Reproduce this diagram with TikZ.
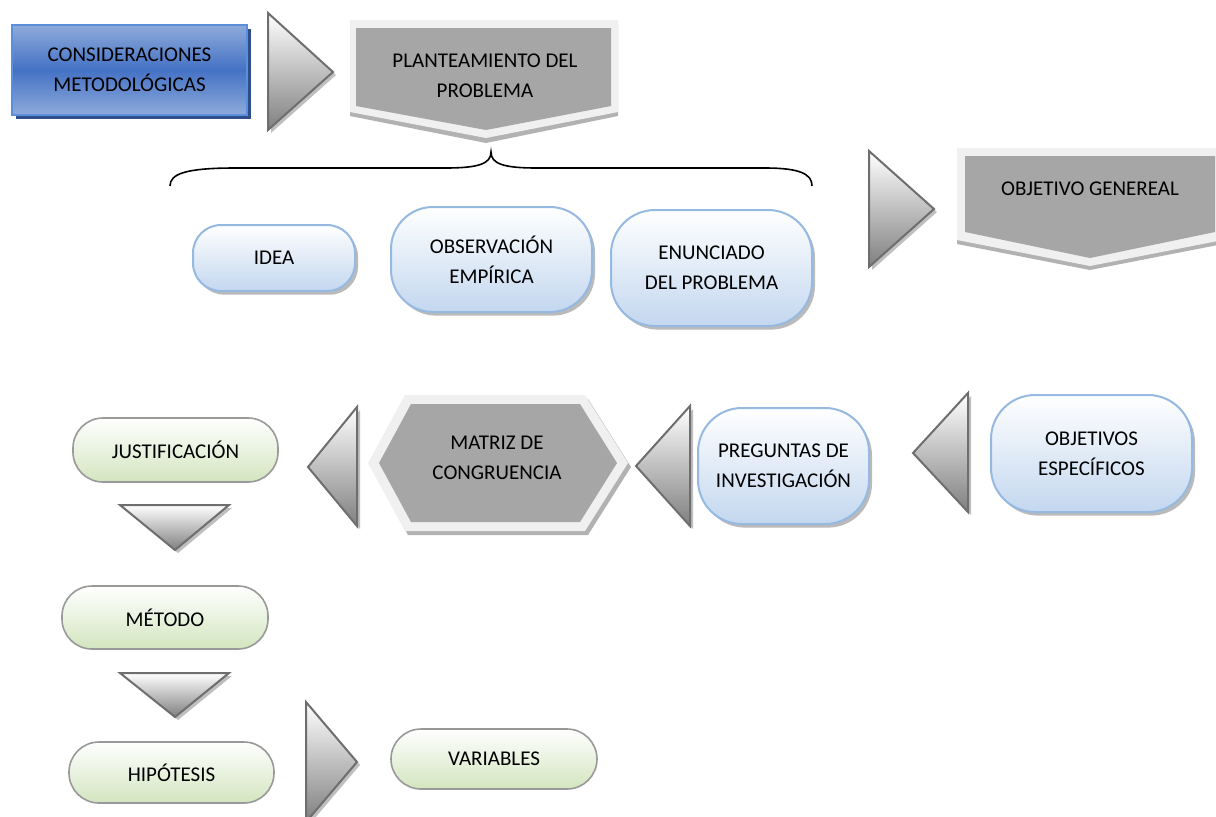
\documentclass[tikz,border=0pt]{standalone}
\usepackage{fontspec}
\setmainfont{Carlito}
\usetikzlibrary{shadows}
\definecolor{bluetop}{HTML}{8EAADB}
\definecolor{bluemid}{HTML}{4472C4}
\definecolor{blueedge}{HTML}{5B8FD9}
\definecolor{blueshadow}{HTML}{2E4F8C}
\definecolor{lbfill}{HTML}{C3D7EF}
\definecolor{lbedge}{HTML}{95B9E0}
\definecolor{grfill}{HTML}{D3E5BF}
\definecolor{chevgray}{HTML}{A6A6A6}
\definecolor{chevframe}{HTML}{F0F0F0}
\definecolor{triedge}{HTML}{6E6E6E}
\pgfdeclareverticalshading{consshade}{100bp}{color(0bp)=(bluetop); color(25bp)=(bluetop); color(50bp)=(bluemid); color(75bp)=(bluetop); color(100bp)=(bluetop)}
\tikzset{
  txt/.style={font=\fontsize{10.5pt}{15pt}\selectfont, align=center, text=black, inner sep=0pt},
  consbox/.style={txt, draw=blueedge, line width=1pt, shading=consshade,
     drop shadow={shadow xshift=2pt, shadow yshift=-2pt, fill=blueshadow, opacity=1}},
  lbox/.style={txt, draw=lbedge, line width=1pt, top color=white, bottom color=lbfill,
     drop shadow={shadow xshift=1.5pt, shadow yshift=-1.8pt, fill=black!45, opacity=0.6}},
  gbox/.style={txt, draw=black!40, line width=0.8pt, top color=white, bottom color=grfill, rounded corners=15pt},
  tri/.style={draw=triedge, line width=1pt, top color=white, bottom color=black!50, line join=miter},
  trishadow/.style={fill=black!25},
  chevshadow/.style={fill=black!30},
  chevout/.style={fill=chevframe},
  chevin/.style={fill=chevgray},
  bracestyle/.style={draw=black, line width=0.8pt},
}
\begin{document}
\begin{tikzpicture}[x=0.5pt,y=-0.5pt]
\clip (0,0) rectangle (1216,816);
\fill[white] (0,0) rectangle (1216,816);

% CONSIDERACIONES
\node[consbox, minimum width=117.5pt, minimum height=45pt] (cons) at (129.5,70) {CONSIDERACIONES\\METODOLÓGICAS};

% triangle 1
\fill[trishadow] (271,16) -- (271,133) -- (336,75) -- cycle;
\path[tri] (268,13) -- (268,130) -- (333,72) -- cycle;

% PLANTEAMIENTO chevron
\fill[chevshadow] (350,24) -- (618,24) -- (618,116) -- (486,143) -- (350,116) -- cycle;
\fill[chevout] (350,20) -- (618,20) -- (618,112) -- (486,138) -- (350,112) -- cycle;
\fill[chevin] (356,28) -- (611,28) -- (611,106) -- (486,130) -- (356,106) -- cycle;
\node[txt] (plan) at (485,76) {PLANTEAMIENTO DEL\\PROBLEMA};

% brace
\draw[bracestyle] (170,186) .. controls (170,174) and (185,168) .. (235,168) -- (445,168)
   .. controls (478,168) and (491,164) .. (491,152)
   .. controls (491,164) and (504,168) .. (537,168) -- (765,168)
   .. controls (800,168) and (812,174) .. (812,186);

% first row boxes
\node[lbox, rounded corners=14pt, minimum width=81pt, minimum height=33pt] (idea) at (274,258) {IDEA};
\node[lbox, rounded corners=21pt, minimum width=100.5pt, minimum height=52.5pt] (obs) at (491.5,259.5) {OBSERVACIÓN\\EMPÍRICA};
\node[lbox, rounded corners=22pt, minimum width=100.5pt, minimum height=58pt] (enun) at (711.5,268) {ENUNCIADO\\DEL PROBLEMA};

% triangle 2
\fill[trishadow] (872,154) -- (872,270) -- (937,212) -- cycle;
\path[tri] (869,151) -- (869,267) -- (934,209) -- cycle;

% OBJETIVO GENEREAL chevron
\fill[chevshadow] (957,152) -- (1223,152) -- (1223,244) -- (1090,270) -- (957,244) -- cycle;
\fill[chevout] (957,148) -- (1223,148) -- (1223,240) -- (1090,266) -- (957,240) -- cycle;
\fill[chevin] (965,156) -- (1215,156) -- (1215,232) -- (1090,258) -- (965,232) -- cycle;
\node[txt] (objg) at (1090,189) {OBJETIVO GENEREAL};

% second row
\node[lbox, rounded corners=22pt, minimum width=100.5pt, minimum height=58.5pt] (objesp) at (1091.5,453.5) {OBJETIVOS\\ESPECÍFICOS};
\fill[trishadow] (971,396) -- (971,515) -- (916,456) -- cycle;
\path[tri] (968,393) -- (968,512) -- (913,453) -- cycle;
\node[lbox, rounded corners=22pt, minimum width=85.5pt, minimum height=58pt] (preg) at (783.5,466) {PREGUNTAS DE\\INVESTIGACIÓN};
\fill[trishadow] (693,409) -- (693,529) -- (639,469) -- cycle;
\path[tri] (690,406) -- (690,526) -- (636,466) -- cycle;

% hexagon
\fill[chevshadow] (371,467) -- (408,399) -- (588,399) -- (631,467) -- (588,535) -- (408,535) -- cycle;
\fill[chevout] (368,463) -- (405,395) -- (585,395) -- (628,463) -- (585,531) -- (405,531) -- cycle;
\fill[chevin] (379,463) -- (411,404) -- (580,404) -- (617,463) -- (580,522) -- (411,522) -- cycle;
\node[txt] (matriz) at (497,458) {MATRIZ DE\\CONGRUENCIA};

\fill[trishadow] (360,410) -- (360,529) -- (311,470) -- cycle;
\path[tri] (357,407) -- (357,526) -- (308,467) -- cycle;

% left column
\node[gbox, minimum width=102.5pt, minimum height=32pt] (just) at (175.5,450) {JUSTIFICACIÓN};
\fill[trishadow] (123,508) -- (232,508) -- (178,553) -- cycle;
\path[tri] (120,505) -- (229,505) -- (175,550) -- cycle;
\node[gbox, minimum width=103pt, minimum height=31.5pt] (met) at (165,617.5) {MÉTODO};
\fill[trishadow] (123,676) -- (232,676) -- (178,720) -- cycle;
\path[tri] (120,673) -- (229,673) -- (175,717) -- cycle;
\node[gbox, minimum width=102.5pt, minimum height=30.5pt] (hip) at (171.5,772.5) {HIPÓTESIS};

\fill[trishadow] (309,705) -- (309,825) -- (360,765) -- cycle;
\path[tri] (306,702) -- (306,822) -- (357,762) -- cycle;
\node[gbox, minimum width=103pt, minimum height=30pt] (var) at (494,759) {VARIABLES};
\end{tikzpicture}
\end{document}
